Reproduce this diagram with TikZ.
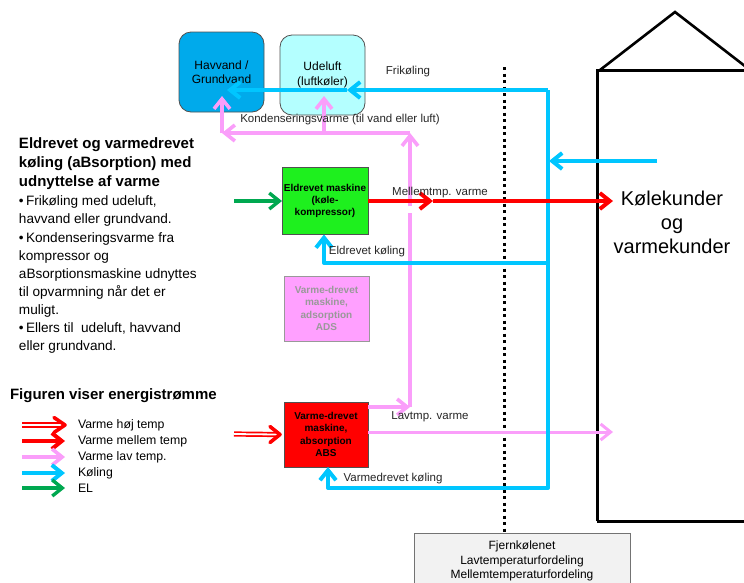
\documentclass[tikz,border=0pt]{standalone}
\usepackage{fontspec}
\setmainfont{Liberation Sans}
\usetikzlibrary{arrows.meta}
\definecolor{cyl}{RGB}{0,198,255}
\definecolor{pkl}{RGB}{250,158,250}
\definecolor{rdl}{RGB}{255,0,0}
\definecolor{grl}{RGB}{0,168,80}
\definecolor{havfill}{RGB}{0,170,235}
\definecolor{udefill}{RGB}{180,255,255}
\definecolor{elfill}{RGB}{30,240,30}
\definecolor{adsfill}{RGB}{255,160,255}
\definecolor{fjfill}{RGB}{242,242,242}
\definecolor{bord}{RGB}{80,80,80}
\begin{document}
\begin{tikzpicture}[x=1pt,y=-1pt,
  every node/.style={inner sep=0pt,outer sep=0pt},
  box/.style={draw=bord,line width=0.8pt,align=center},
  tip/.style={-{Straight Barb[length=10pt,width=16pt]}},
  cy/.style={draw=cyl,line width=4pt,line join=round},
  pk/.style={draw=pkl,line width=3.6pt,line join=round},
  rd/.style={draw=rdl,line width=4pt},
  gr/.style={draw=grl,line width=3.4pt},
  chev/.style={draw=rdl,line width=3.6pt,line cap=round,line join=round},
  dbl/.style={draw=rdl,line width=1.7pt,double=white,double distance=1.8pt},
  lbl/.style={font=\fontsize{11.5}{13}\selectfont,text=black!85},
  bx/.style={font=\fontsize{12}{14.5}\selectfont},
  bxb/.style={font=\bfseries\fontsize{10}{12.3}\selectfont},
]
\useasboundingbox[fill=white] (0,0) rectangle (744,582);

% building
\draw[line width=3pt,line join=miter] (597,521) -- (597,70) -- (750,70);
\draw[line width=3pt] (597,521) -- (750,521);
\draw[line width=2.6pt,line join=miter] (600,70) -- (675,12) -- (750,70);
\node[font=\fontsize{20}{24}\selectfont,align=center] (kund) at (672,222) {Kølekunder\\og\\varmekunder};

% nodes
\node[box,fill=havfill,rounded corners=12pt,minimum width=85pt,minimum height=80pt,bx] (hav) at (221.5,72) {Havvand /\\Grundvand};
\node[box,fill=udefill,rounded corners=12pt,minimum width=85pt,minimum height=80pt,bx] (ude) at (322.5,75) {Udeluft\\(luftkøler)};
\node[box,fill=elfill,minimum width=86pt,minimum height=67pt,bxb] (el) at (325,201) {Eldrevet maskine\\(køle-\\kompressor)};
\node[box,draw=black!40,fill=adsfill,minimum width=85pt,minimum height=65pt,bxb,text=black!40] (ads) at (326.5,308.5) {Varme-drevet\\maskine,\\adsorption\\ADS};
\node[box,fill=rdl,minimum width=84pt,minimum height=65pt,bxb] (abs) at (326,434.5) {Varme-drevet\\maskine,\\absorption\\ABS};
\node[box,draw=black!55,fill=fjfill,minimum width=216pt,minimum height=56pt,anchor=north,font=\fontsize{12}{14.5}\selectfont] (fjern) at (522,533) {Fjernkølenet\\Lavtemperaturfordeling\\Mellemtemperaturfordeling};

% dotted divider
\coordinate (d1) at (504,67);
\draw[line width=3pt,dash pattern=on 3.2pt off 3.3pt] (d1) -- (d1 |- fjern.north);

% pink condensation heat network
\coordinate (p1) at (410,407);
\coordinate (p2) at (410,213);
\coordinate (p3) at (410,206);
\coordinate (p4) at (410,133);
\coordinate (p5) at (222,133);
\coordinate (p6) at (222,96);
\coordinate (p7) at (324,133);
\coordinate (p8) at (324,96);
\draw[pk,tip] (abs.east |- p1) -- (p1);
\draw[pk] (p1) -- (p2);
\draw[pk,tip] (p3) -- (p4);
\draw[pk,tip] (p4) -- (p5);
\draw[pk,tip] (p5) -- (p6);
\draw[pk,tip] (p7) -- (p8);
\coordinate (p9) at (613,432);
\draw[pk,line width=3pt,tip] (abs.east |- p9) -- (p9);

% cyan cooling
\coordinate (c1) at (548,90);
\coordinate (c2) at (347,90);
\coordinate (c3) at (227,90);
\coordinate (c4) at (548,488);
\coordinate (c5) at (328,488);
\coordinate (c6) at (548,263);
\coordinate (c7) at (324,263);
\coordinate (c8) at (657,161);
\coordinate (c9) at (549,161);
\draw[cy,tip] (c1) -- (c2);
\draw[cy,tip] (c2) -- (c3);
\draw[cy,tip] (c1) -- (c4) -- (c5) -- (abs.south -| c5);
\draw[cy,tip] (c6) -- (c7) -- (el.south -| c7);
\draw[cy,tip] (c8) -- (c9);

% red medium temp
\coordinate (r1) at (433,201);
\coordinate (r2) at (613,201);
\draw[rd,tip] (el.east) -- (r1);
\draw[rd,tip] (r1) -- (r2);

% green EL in
\coordinate (g1) at (234,201);
\draw[gr,tip] (g1) -- (el.west);

% double red high temp in
\coordinate (h1) at (234,434);
\draw[dbl] (h1) -- ([xshift=-8pt]abs.west);
\draw[chev] ([xshift=-14pt,yshift=8pt]abs.west) -- ([xshift=-4pt]abs.west) -- ([xshift=-14pt,yshift=-8pt]abs.west);

% labels
\node[lbl] (lfri) at (408,72) {Frikøling};
\node[lbl] (lkon) at (340,120) {Kondenseringsvarme (til vand eller luft)};
\node[lbl] (lmel) at (440,193) {Mellemtmp. varme};
\node[lbl] (lelk) at (367,252) {Eldrevet køling};
\node[lbl] (llav) at (430,417) {Lavtmp. varme};
\node[lbl] (lvak) at (393,479) {Varmedrevet køling};

% left text
\node[anchor=north west,align=left,font=\bfseries\fontsize{15}{19}\selectfont] (title) at (19,138) {Eldrevet og varmedrevet\\køling (aBsorption) med\\udnyttelse af varme};
\node[anchor=north west,align=left,font=\fontsize{13.6}{18.1}\selectfont] (bul) at (19,196) {\textbullet\,Frikøling med udeluft,\\havvand eller grundvand.\\\textbullet\,Kondenseringsvarme fra\\kompressor og\\aBsorptionsmaskine udnyttes\\til opvarmning når det er\\muligt.\\\textbullet\,Ellers til\ \ udeluft, havvand\\eller grundvand.};

% legend
\node[anchor=west,font=\bfseries\fontsize{15}{18}\selectfont] (legt) at (10,396) {Figuren viser energistrømme};
\coordinate (L1a) at (22,425); \coordinate (L1b) at (65,425);
\coordinate (L2a) at (22,441); \coordinate (L2b) at (65,441);
\coordinate (L3a) at (22,457); \coordinate (L3b) at (65,457);
\coordinate (L4a) at (22,473); \coordinate (L4b) at (65,473);
\coordinate (L5a) at (22,488); \coordinate (L5b) at (65,488);
\draw[dbl] (L1a) -- ([xshift=-5pt]L1b);
\draw[chev] ([xshift=-11pt,yshift=7.5pt]L1b) -- (L1b) -- ([xshift=-11pt,yshift=-7.5pt]L1b);
\draw[rd,tip] (L2a) -- (L2b);
\draw[pk,tip] (L3a) -- (L3b);
\draw[cy,tip] (L4a) -- (L4b);
\draw[gr,tip] (L5a) -- (L5b);
\node[anchor=west,font=\fontsize{12.3}{14}\selectfont] (t1) at (78,425) {Varme høj temp};
\node[anchor=west,font=\fontsize{12.3}{14}\selectfont] (t2) at (78,441) {Varme mellem temp};
\node[anchor=west,font=\fontsize{12.3}{14}\selectfont] (t3) at (78,457) {Varme lav temp.};
\node[anchor=west,font=\fontsize{12.3}{14}\selectfont] (t4) at (78,473) {Køling};
\node[anchor=west,font=\fontsize{12.3}{14}\selectfont] (t5) at (78,488) {EL};
\end{tikzpicture}
\end{document}
